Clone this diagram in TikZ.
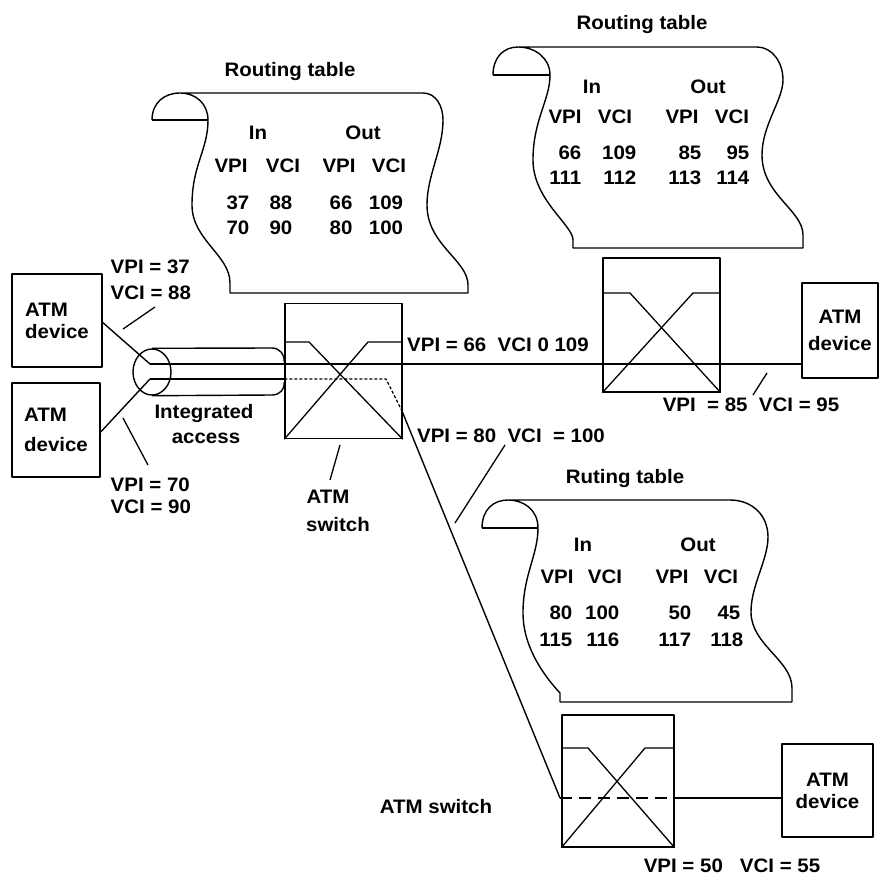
\documentclass[tikz,border=0pt]{standalone}
\usepackage{fontspec}
\setmainfont{Liberation Sans}[FakeStretch=1.05]
\usetikzlibrary{shapes.geometric}
\begin{document}
\begin{tikzpicture}[x=1pt,y=-1pt,line width=1.4pt,line join=round]
\tikzset{
  lbl/.style={font=\fontsize{19.5}{22}\selectfont\bfseries,inner sep=0pt,text height=13.5pt,text depth=0pt},
  devbox/.style={draw,line width=1.4pt,inner sep=0pt,font=\fontsize{19.5}{#1}\selectfont\bfseries},
  swbox/.style={draw,line width=1.4pt,inner sep=0pt,minimum width=117pt,minimum height=135pt},
  swbox3/.style={draw,line width=1.4pt,inner sep=0pt,minimum width=112pt,minimum height=132pt},
  scroll/.style={line width=1.4pt,line join=round},
  thin/.style={line width=1.3pt},
}
\useasboundingbox (0,0) rectangle (881,876);
\fill[white] (0,0) rectangle (881,876);

% ---------- routing table scrolls ----------
\draw[scroll] (152,120) -- (208,120);
\draw[scroll] (152,120) .. controls (152,103) and (164,93) .. (180,93) -- (423,93)
  .. controls (436,93) and (443,106) .. (443,120)
  .. controls (443,150) and (427,175) .. (427,205)
  .. controls (427,245) and (468,260) .. (468,285) -- (468,293) -- (230,293) -- (230,283)
  .. controls (230,255) and (192,240) .. (192,205)
  .. controls (192,165) and (208,150) .. (208,120)
  .. controls (208,104) and (196,93) .. (180,93);

\draw[scroll] (493,75) -- (550,75);
\draw[scroll] (493,75) .. controls (493,58) and (503,47) .. (518,47) -- (757,47)
  .. controls (772,47) and (783,62) .. (783,80)
  .. controls (783,100) and (762,125) .. (762,155)
  .. controls (762,195) and (803,210) .. (803,235) -- (803,248) -- (573,248) -- (573,240)
  .. controls (573,225) and (533,200) .. (533,160)
  .. controls (533,120) and (550,100) .. (550,75)
  .. controls (550,58) and (535,47) .. (518,47);

\draw[scroll] (482,528) -- (538,528);
\draw[scroll] (482,528) .. controls (482,510) and (493,500) .. (508,500) -- (730,500)
  .. controls (752,500) and (768,515) .. (768,537)
  .. controls (768,560) and (751,585) .. (751,612)
  .. controls (751,645) and (792,660) .. (792,688) -- (792,702) -- (560,702) -- (560,693)
  .. controls (548,680) and (523,650) .. (523,613)
  .. controls (523,575) and (538,555) .. (538,528)
  .. controls (538,510) and (524,500) .. (508,500);

% ---------- table 1 ----------
\node[lbl] (t1title) at (290,70) {Routing table};
\node[lbl] (t1in) at (258,133) {In};
\node[lbl] (t1out) at (363,133) {Out};
\node[lbl] (t1h1) at (231,166) {VPI};
\node[lbl] (t1h2) at (283,166) {VCI};
\node[lbl] (t1h3) at (339,166) {VPI};
\node[lbl] (t1h4) at (389,166) {VCI};
\node[lbl] (t1a1) at (238,203) {37};
\node[lbl] (t1a2) at (281,203) {88};
\node[lbl] (t1a3) at (341,203) {66};
\node[lbl] (t1a4) at (386,203) {109};
\node[lbl] (t1b1) at (238,228) {70};
\node[lbl] (t1b2) at (281,228) {90};
\node[lbl] (t1b3) at (341,228) {80};
\node[lbl] (t1b4) at (386,228) {100};

% ---------- table 2 ----------
\node[lbl] (t2title) at (642,23) {Routing table};
\node[lbl] (t2in) at (592,87) {In};
\node[lbl] (t2out) at (708,87) {Out};
\node[lbl] (t2h1) at (565,117) {VPI};
\node[lbl] (t2h2) at (615,117) {VCI};
\node[lbl] (t2h3) at (682,117) {VPI};
\node[lbl] (t2h4) at (732,117) {VCI};
\node[lbl,anchor=east] (t2a1) at (582,153) {66};
\node[lbl,anchor=east] (t2a2) at (637,153) {109};
\node[lbl,anchor=east] (t2a3) at (702,153) {85};
\node[lbl,anchor=east] (t2a4) at (750,153) {95};
\node[lbl,anchor=east] (t2b1) at (582,178) {111};
\node[lbl,anchor=east] (t2b2) at (637,178) {112};
\node[lbl,anchor=east] (t2b3) at (702,178) {113};
\node[lbl,anchor=east] (t2b4) at (750,178) {114};

% ---------- table 3 ----------
\node[lbl] (t3title) at (625,477) {Ruting table};
\node[lbl] (t3in) at (583,545) {In};
\node[lbl] (t3out) at (698,545) {Out};
\node[lbl] (t3h1) at (557,577) {VPI};
\node[lbl] (t3h2) at (605,577) {VCI};
\node[lbl] (t3h3) at (672,577) {VPI};
\node[lbl] (t3h4) at (721,577) {VCI};
\node[lbl,anchor=east] (t3a1) at (573,613) {80};
\node[lbl,anchor=east] (t3a2) at (620,613) {100};
\node[lbl,anchor=east] (t3a3) at (692,613) {50};
\node[lbl,anchor=east] (t3a4) at (741,613) {45};
\node[lbl,anchor=east] (t3b1) at (573,640) {115};
\node[lbl,anchor=east] (t3b2) at (620,640) {116};
\node[lbl,anchor=east] (t3b3) at (692,640) {117};
\node[lbl,anchor=east] (t3b4) at (744,640) {118};

% ---------- devices ----------
\node[devbox=22,minimum width=90pt,minimum height=93pt,align=left] (dev1) at (57,320.5) {ATM\\device};
\node[devbox=30,minimum width=88pt,minimum height=94pt,align=left] (dev2) at (56,430) {ATM\\device};
\node[devbox=27,minimum width=76pt,minimum height=95pt,align=center] (dev3) at (840,330.5) {ATM\\device};
\node[devbox=22,minimum width=91pt,minimum height=93pt,align=center] (dev4) at (827.5,790.5) {ATM\\device};

% ---------- switches ----------
\node[swbox] (sw1) at (343.5,371) {};
\node[swbox,minimum height=134pt] (sw2) at (661.5,325) {};
\node[swbox3] (sw3) at (618,781) {};

% switch internals
\draw[thin] (sw1.west |- 0,342) -- (309,342) -- (sw1.south east);
\draw[thin] (sw1.east |- 0,342) -- (368,342) -- (sw1.south west);
\draw[thin] (sw2.west |- 0,293) -- (630,293) -- (sw2.south east);
\draw[thin] (sw2.east |- 0,293) -- (693,293) -- (sw2.south west);
\draw[thin] (sw3.west |- 0,748) -- (588,748) -- (sw3.south east);
\draw[thin] (sw3.east |- 0,748) -- (645,748) -- (sw3.south west);

% ---------- integrated access cylinder ----------
\node[draw,ellipse,line width=1.4pt,minimum width=38pt,minimum height=46pt,inner sep=0pt] (cyl) at (152,372) {};
\draw (cyl.north) -- (272,348) .. controls (280,348) and (285,355) .. (sw1.west |- 0,362);
\draw (cyl.south) -- (272,395) .. controls (280,395) and (285,389) .. (sw1.west |- 0,382);

% ---------- connections ----------
\coordinate (a1) at (150,364);
\coordinate (a2) at (150,379);
\coordinate (bend) at (386,379);
\coordinate (exit) at (402,411);
\coordinate (d2) at (560,798);
\draw ([yshift=-2pt]dev1.east) -- (a1);
\draw ([yshift=-2pt]dev2.east) -- (a2);
\draw (a1) -- (a1 -| dev3.west);
\draw (a2) -- (a2 -| sw1.west);
\draw[thin,densely dashed] (a2 -| sw1.west) -- (bend) -- (exit);
\draw (exit) -- (d2);
\draw[dash pattern=on 12pt off 7pt] (d2) -- (d2 -| sw3.east);
\draw (d2 -| sw3.east) -- (d2 -| dev4.west);

% ---------- labels ----------
\node[lbl,anchor=west] (l37) at (110,267) {VPI = 37};
\node[lbl,anchor=west] (l88) at (110,293) {VCI = 88};
\node[lbl,anchor=west] (l70) at (110,485) {VPI = 70};
\node[lbl,anchor=west] (l90) at (110,507) {VCI = 90};
\node[lbl] (lint) at (204,412) {Integrated};
\node[lbl] (lacc) at (206,437) {access};
\node[lbl] (latm) at (328,497) {ATM};
\node[lbl] (lsw) at (338,525) {switch};
\node[lbl] (l66) at (498,345) {VPI = 66~~VCI 0 109};
\node[lbl] (l80) at (511,436) {VPI = 80~~VCI~~= 100};
\node[lbl] (l85) at (751,405) {VPI~~= 85~~VCI = 95};
\node[lbl] (lsw3) at (436,807) {ATM switch};
\node[lbl] (l50) at (732,866) {VPI = 50~~~VCI = 55};

% ---------- label ticks ----------
\coordinate (k1a) at (155,307); \coordinate (k1b) at (123,329);
\coordinate (k2a) at (123,418); \coordinate (k2b) at (148,465);
\coordinate (k3a) at (340,445); \coordinate (k3b) at (330,480);
\coordinate (k4a) at (505,445); \coordinate (k4b) at (455,523);
\coordinate (k5a) at (753,395); \coordinate (k5b) at (767,373);
\draw[thin] (k1a) -- (k1b);
\draw[thin] (k2a) -- (k2b);
\draw[thin] (k3a) -- (k3b);
\draw[thin] (k4a) -- (k4b);
\draw[thin] (k5a) -- (k5b);
\end{tikzpicture}
\end{document}
